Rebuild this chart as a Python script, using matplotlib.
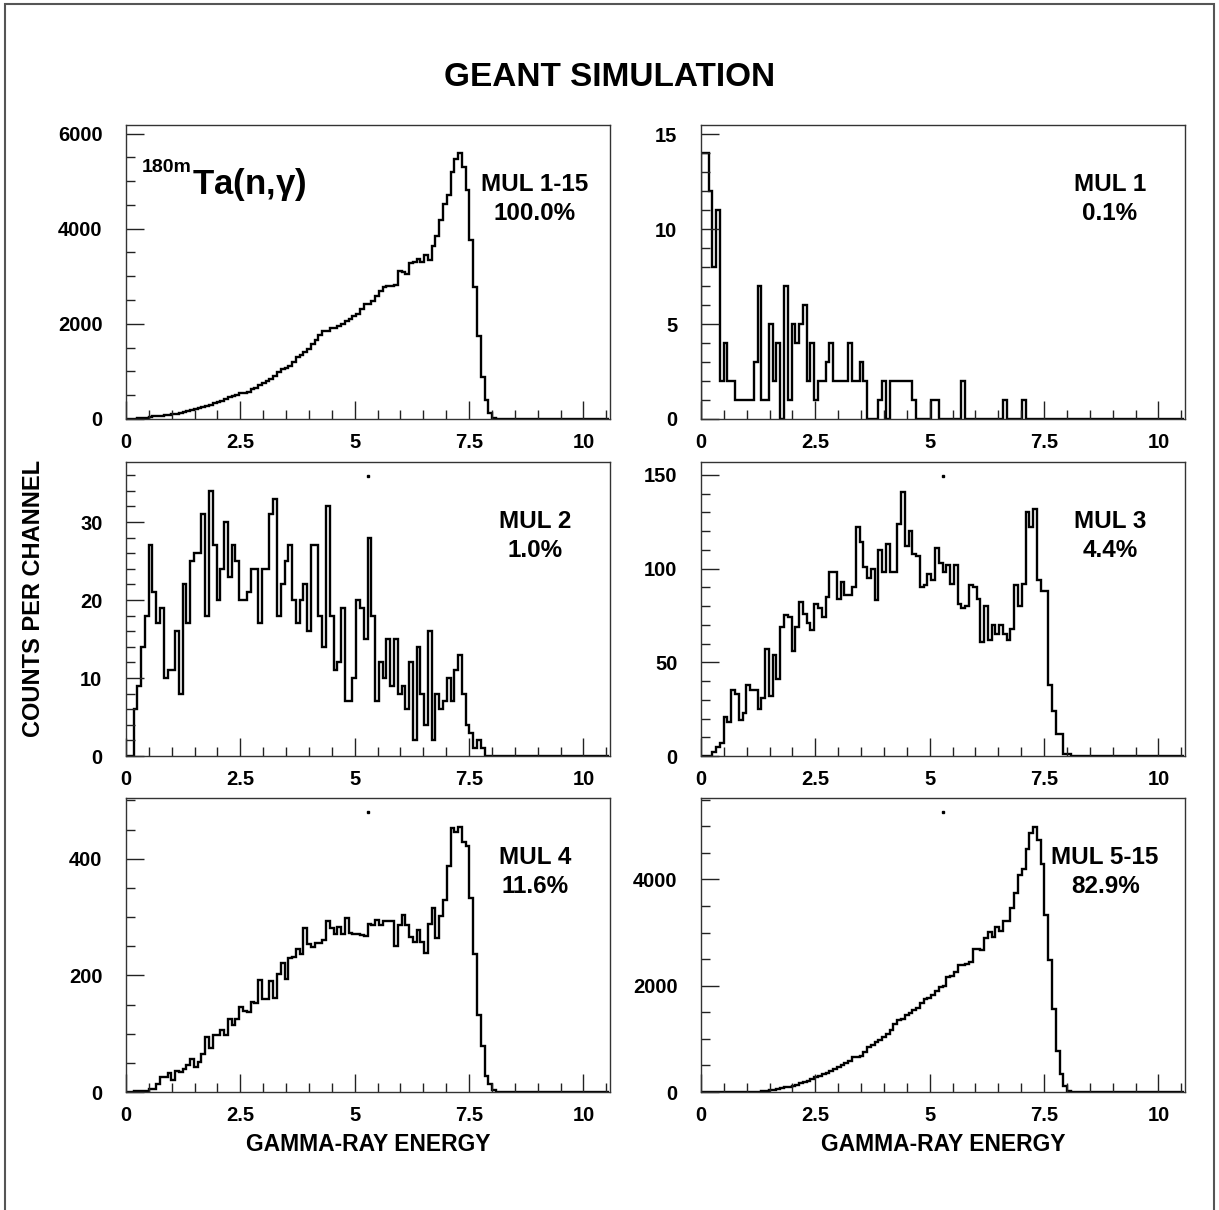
import numpy as np
import matplotlib.pyplot as plt
from matplotlib.patches import Rectangle
from matplotlib.ticker import MultipleLocator

plt.rcParams['font.family'] = ['Liberation Sans', 'DejaVu Sans']
plt.rcParams['font.weight'] = 'bold'
plt.rcParams['mathtext.fontset'] = 'custom'
plt.rcParams['mathtext.rm'] = 'Liberation Sans'

# 128 channels of 82.5 keV each
N_BINS = 128
BIN_WIDTH = 0.0825
E_MAX = 10.58

# counts per channel, starting at channel 0 (trailing channels are empty)
mul_all = [2, 5, 8, 12, 18, 25, 45, 55, 60, 70,
           78, 85, 105, 110, 125, 140, 160, 180, 204, 225,
           250, 280, 300, 330, 350, 380, 420, 458, 475, 507,
           542, 555, 577, 634, 660, 718, 754, 790, 838, 894,
           986, 1049, 1080, 1120, 1197, 1303, 1340, 1408, 1472, 1585,
           1669, 1775, 1859, 1850, 1908, 1923, 1960, 2000, 2056, 2106,
           2162, 2197, 2317, 2408, 2420, 2479, 2585, 2690, 2775, 2796,
           2800, 2817, 3113, 3100, 3042, 3275, 3290, 3359, 3310, 3451,
           3345, 3627, 3852, 4190, 4521, 4711, 5190, 5472, 5598, 5296,
           4824, 3768, 2782, 1753, 880, 401, 120, 30, 5]

mul_1 = [14, 14, 12, 8, 11, 2, 4, 2, 2, 1,
         1, 1, 1, 1, 3, 7, 1, 1, 5, 2,
         4, 0, 7, 1, 5, 4, 5, 6, 2, 4,
         1, 2, 2, 3, 4, 2, 2, 2, 2, 4,
         2, 2, 3, 2, 0, 0, 0, 1, 2, 0,
         2, 2, 2, 2, 2, 2, 1, 0, 0, 0,
         0, 1, 1, 0, 0, 0, 0, 0, 0, 2,
         0, 0, 0, 0, 0, 0, 0, 0, 0, 0,
         1, 0, 0, 0, 0, 1]

mul_2 = [0, 0, 6, 9, 14, 18, 27, 21, 17, 19,
         10, 11, 11, 16, 8, 22, 17, 25, 26, 26,
         31, 18, 34, 27, 20, 24, 30, 23, 27, 25,
         20, 20, 21, 24, 24, 17, 24, 24, 31, 33,
         18, 22, 25, 27, 20, 17, 20, 22, 16, 27,
         27, 18, 14, 32, 18, 11, 12, 19, 7, 7,
         10, 20, 19, 15, 28, 18, 7, 12, 10, 15,
         9, 15, 8, 9, 6, 12, 2, 14, 8, 4,
         16, 2, 8, 6, 7, 10, 7, 11, 13, 8,
         4, 3, 1, 2, 1]

mul_3 = [0, 0, 0, 2, 5, 7, 21, 18, 35, 33,
         19, 23, 38, 35, 35, 25, 31, 57, 32, 54,
         41, 69, 75, 74, 56, 69, 82, 76, 71, 67,
         81, 79, 74, 85, 98, 98, 84, 93, 86, 86,
         90, 122, 114, 101, 95, 100, 83, 110, 98, 113,
         98, 98, 124, 141, 112, 120, 108, 107, 90, 91,
         97, 94, 111, 103, 98, 102, 92, 102, 81, 79,
         80, 91, 90, 84, 61, 80, 62, 70, 65, 70,
         65, 62, 68, 91, 80, 92, 130, 122, 132, 94,
         88, 88, 38, 24, 12, 12, 1, 1]

mul_4 = [0, 0, 1, 1, 2, 2, 5, 6, 13, 26,
         25, 32, 20, 36, 34, 40, 46, 57, 43, 52,
         66, 95, 75, 97, 97, 107, 97, 126, 115, 126,
         146, 139, 138, 155, 152, 192, 159, 159, 191, 162,
         203, 222, 193, 229, 232, 245, 237, 281, 253, 249,
         255, 255, 261, 294, 281, 271, 283, 271, 298, 272,
         271, 271, 269, 268, 288, 287, 295, 287, 293, 293,
         293, 251, 287, 304, 287, 266, 258, 278, 258, 239,
         288, 315, 264, 302, 330, 388, 453, 446, 454, 428,
         421, 332, 237, 132, 79, 28, 14, 3]

mul_5_15 = [0, 0, 0, 0, 0, 0, 0, 0, 0, 0,
            0, 2, 3, 4, 5, 8, 12, 25, 35, 44,
            55, 70, 85, 100, 115, 132, 170, 190, 214, 245,
            277, 308, 340, 360, 390, 430, 465, 516, 540, 579,
            654, 660, 673, 761, 843, 880, 937, 981, 1030, 1094,
            1170, 1283, 1358, 1370, 1440, 1484, 1535, 1585, 1673, 1755,
            1760, 1820, 1893, 1975, 1987, 2164, 2180, 2258, 2384, 2390,
            2400, 2447, 2698, 2690, 2667, 2906, 3013, 2918, 3107, 3031,
            3214, 3220, 3465, 3748, 4082, 4195, 4566, 4881, 4981, 4742,
            4289, 3327, 2478, 1566, 780, 340, 120, 25]

labels = ['MUL 1-15', 'MUL 1', 'MUL 2', 'MUL 3', 'MUL 4', 'MUL 5-15']
fractions = ['100.0%', '0.1%', '1.0%', '4.4%', '11.6%', '82.9%']
y_max = [6180, 15.5, 37.7, 156.9, 504, 5530]
y_major = [2000, 5, 10, 50, 200, 2000]
y_minor = [500, 1, 2, 10, 50, 500]
label_x = [0.845, 0.845, 0.845, 0.845, 0.845, 0.835]

spectra = [mul_all, mul_1, mul_2, mul_3, mul_4, mul_5_15]
edges = np.arange(N_BINS + 1) * BIN_WIDTH

fig = plt.figure(figsize=(12.19, 12.10), dpi=100)

# outer frame around the page
fig.patches.append(Rectangle((5 / 1219, -0.01), 1209 / 1219, 1.0067,
                             transform=fig.transFigure, fill=False,
                             lw=1.5, ec='#555555'))

col_left = [126 / 1219, 701 / 1219]
row_bottom = [1 - 419 / 1210, 1 - 756 / 1210, 1 - 1092 / 1210]
width = 484 / 1219
height = 294 / 1210

for i, counts in enumerate(spectra):
    row, col = divmod(i, 2)
    ax = fig.add_axes([col_left[col], row_bottom[row], width, height])
    values = np.zeros(N_BINS)
    values[:len(counts)] = counts
    ax.stairs(values, edges, baseline=0, color='black', lw=1.7)

    ax.set_xlim(0, E_MAX)
    ax.set_ylim(0, y_max[i])
    ax.xaxis.set_major_locator(MultipleLocator(2.5))
    ax.xaxis.set_minor_locator(MultipleLocator(0.5))
    ax.yaxis.set_major_locator(MultipleLocator(y_major[i]))
    ax.yaxis.set_minor_locator(MultipleLocator(y_minor[i]))
    ax.xaxis.set_major_formatter(lambda v, p: f'{v:g}')
    ax.tick_params(which='both', direction='in', top=False, right=False,
                   width=1.0, color='#222222', labelsize=14.5)
    ax.tick_params(which='major', length=13)
    ax.tick_params(which='minor', length=6.5)
    ax.tick_params(axis='x', pad=10)
    ax.tick_params(axis='y', pad=17)
    for s in ax.spines.values():
        s.set_linewidth(1.0)
        s.set_color('#333333')

    ax.text(label_x[i], 0.796, labels[i], transform=ax.transAxes,
            ha='center', va='center', fontsize=17.5)
    ax.text(label_x[i], 0.70, fractions[i], transform=ax.transAxes,
            ha='center', va='center', fontsize=17.5)

    if row > 0:
        ax.plot([0.5], [0.952], 's', ms=2.0, color='black',
                transform=ax.transAxes, clip_on=False)
    if row == 2:
        ax.text(0.5, -0.177, 'GAMMA-RAY ENERGY', transform=ax.transAxes,
                ha='center', va='center', fontsize=16.5)
    if i == 0:
        ax.text(0.033, 0.855, '180m', transform=ax.transAxes,
                ha='left', va='center', fontsize=14)
        ax.text(0.136, 0.765, r'Ta(n,$\mathrm{\gamma}$)',
                transform=ax.transAxes, ha='left', va='baseline',
                fontsize=25)

fig.text(610 / 1219, 1 - 78 / 1210, 'GEANT SIMULATION',
         ha='center', va='center', fontsize=24)
fig.text(34 / 1219, 1 - 598 / 1210, 'COUNTS PER CHANNEL', rotation=90,
         ha='center', va='center', fontsize=17)

fig.savefig('out.png', dpi=100)
